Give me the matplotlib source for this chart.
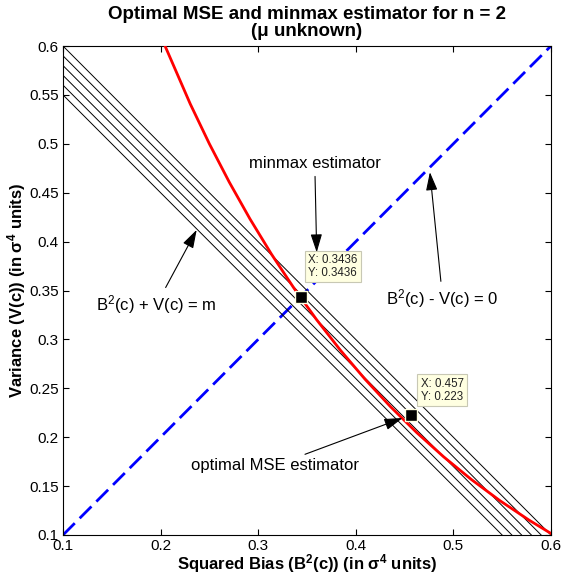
import matplotlib
matplotlib.use("Agg")
import matplotlib.pyplot as plt

plt.rcParams['font.family'] = ['Liberation Sans', 'DejaVu Sans']
plt.rcParams['mathtext.fontset'] = 'custom'
plt.rcParams['mathtext.rm'] = 'Liberation Sans'
plt.rcParams['mathtext.it'] = 'Liberation Sans:italic'
plt.rcParams['mathtext.bf'] = 'Liberation Sans:bold'

# Red curve: (squared bias, variance)
curve_bias2 = [0.2046, 0.2304, 0.25, 0.2704, 0.2916, 0.3136, 0.3364, 0.36, 0.3844,
               0.4096, 0.4356, 0.4624, 0.49, 0.5184, 0.5476, 0.5776, 0.6]
curve_var = [0.6, 0.5408, 0.5, 0.4608, 0.4232, 0.3872, 0.3528, 0.32, 0.2888,
             0.2592, 0.2312, 0.2048, 0.18, 0.1568, 0.1352, 0.1152, 0.1016]

# Iso-MSE lines B^2 + V = m
m_values = [0.65, 0.66, 0.67, 0.68, 0.69, 0.70]

# Line B^2 - V = 0
diag_x = [0.1, 0.6]
diag_y = [0.1, 0.6]

# Data tips
tip_x = [0.3436, 0.457]
tip_y = [0.3436, 0.223]
tip_labels = ["X: 0.3436\nY: 0.3436", "X: 0.457\nY: 0.223"]

xticks = [0.1, 0.2, 0.3, 0.4, 0.5, 0.6]
yticks = [0.1, 0.15, 0.2, 0.25, 0.3, 0.35, 0.4, 0.45, 0.5, 0.55, 0.6]

fig = plt.figure(figsize=(5.61, 5.81), dpi=100)
ax = fig.add_axes([0.1123, 0.0792, 0.8697, 0.8416])

for m in m_values:
    ax.plot([m - 0.6, 0.6], [0.6, m - 0.6], color='black', lw=0.7, zorder=2)

ax.plot(diag_x, diag_y, color='#0000ff', lw=2, ls=(0, (6, 2.5)), zorder=1)
ax.plot(curve_bias2, curve_var, color='#ff0000', lw=2, zorder=3)

ax.plot(tip_x, tip_y, 's', color='black', ms=8.5, mec='#ffffe1', mew=1, zorder=6)

tip_offsets = [(0.0075, 0.031), (0.0095, 0.025)]
for x, y, lab, (dx, dy) in zip(tip_x, tip_y, tip_labels, tip_offsets):
    ax.text(x + dx, y + dy, lab, fontsize=8.3, va='center', ha='left', zorder=5,
            linespacing=1.1, color='#222222',
            bbox=dict(boxstyle='square,pad=0.3', fc='#ffffe1', ec='#c8c8b4', lw=0.8))

arrow = dict(arrowstyle='-|>,head_length=0.7,head_width=0.22', color='black',
             lw=0.8, mutation_scale=16, shrinkA=2, shrinkB=0)
fs = 12
ax.annotate('minmax estimator', xy=(0.36, 0.389), xytext=(0.358, 0.480),
            ha='center', va='center', fontsize=fs, arrowprops=arrow)
ax.annotate('B$^2$(c) - V(c) = 0', xy=(0.476, 0.471), xytext=(0.489, 0.342),
            ha='center', va='center', fontsize=fs, arrowprops=arrow)
ax.annotate('B$^2$(c) + V(c) = m', xy=(0.237, 0.412), xytext=(0.196, 0.336),
            ha='center', va='center', fontsize=fs, arrowprops=arrow)
ax.annotate('optimal MSE estimator', xy=(0.448, 0.2196), xytext=(0.317, 0.171),
            ha='center', va='center', fontsize=fs, arrowprops=arrow)

ax.set_xlim(0.1, 0.6)
ax.set_ylim(0.1, 0.6)
ax.set_xticks(xticks)
ax.set_yticks(yticks)
ax.set_xticklabels([f"{t:g}" for t in xticks])
ax.set_yticklabels([f"{t:g}" for t in yticks])
ax.tick_params(direction='in', top=True, right=True, labelsize=11, length=4, pad=3)

ax.set_xlabel('Squared Bias (B$\\mathbf{^2}$(c)) (in $\\mathbf{\\sigma^4}$ units)',
              fontsize=12, fontweight='bold', labelpad=-1)
ax.set_ylabel('Variance (V(c)) (in $\\mathbf{\\sigma^4}$ units)',
              fontsize=12, fontweight='bold')
ax.yaxis.set_label_coords(-0.071, 0.5)
ax.set_title('Optimal MSE and minmax estimator for n = 2\n(μ unknown)',
             fontsize=13.5, fontweight='bold', linespacing=1.0, pad=7)

fig.savefig('out.png', dpi=100)
